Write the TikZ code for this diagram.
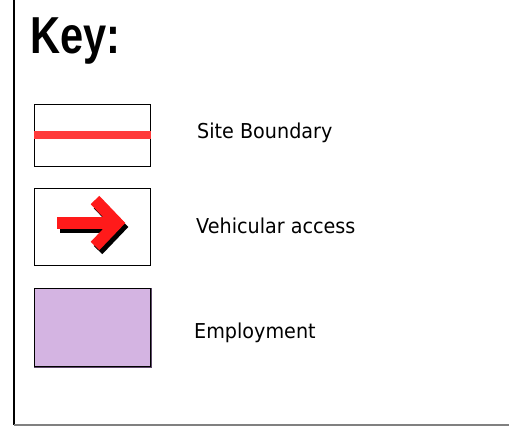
\documentclass[tikz,border=0pt]{standalone}
\usepackage{graphicx}
\usepackage{fontspec}
\setmainfont{DejaVu Sans}
\newfontfamily\keyfont{Liberation Sans}
\definecolor{sitered}{HTML}{FF3B3B}
\definecolor{arrred}{HTML}{FF1A1A}
\definecolor{emplfill}{HTML}{D4B4E2}
\definecolor{emplborder}{HTML}{5E4A6A}
\definecolor{framegray}{HTML}{808080}
\newcommand{\lbltext}[1]{\scalebox{0.935}[1]{\fontsize{20.5}{24}\selectfont #1}}
\begin{document}
\begin{tikzpicture}[x=1pt,y=-1pt,
  keybox/.style={draw=black,line width=1.2pt,minimum width=116pt,minimum height=62pt,inner sep=0pt,anchor=north west},
  label/.style={anchor=base west,inner sep=0pt},
  arrowline/.style={line width=12pt,miter limit=10}]
\useasboundingbox (0,0) rectangle (509,428);
\fill[white] (0,0) rectangle (509,428);
% frame
\coordinate (ftop) at (14,0);
\coordinate (fcorner) at (14,425);
\coordinate (fright) at (509,425);
\draw[black,line width=1.5pt] (ftop) -- (fcorner);
\draw[framegray,line width=2pt] (fcorner) -- (fright);
% title
\node[anchor=base west,inner sep=0pt] (title) at (30,54)
  {\scalebox{0.8}[1]{\keyfont\bfseries\fontsize{52}{60}\selectfont Key:}};
% site boundary
\node[keybox] (site) at (34,104) {};
\fill[sitered] (site.west |- 0,131) rectangle (site.east |- 0,139);
\node[label] (sitelbl) at (197,138) {\lbltext{Site Boundary}};
% vehicular access
\node[keybox,minimum height=77pt] (veh) at (34,188) {};
\begin{scope}[shift={(3,4)}]
  \draw[black,arrowline] (95,200) -- (117,223) -- (95,246);
  \draw[black,arrowline] (57,222.5) -- (116,222.5);
\end{scope}
\draw[arrred,arrowline] (95,200) -- (117,223) -- (95,246);
\draw[arrred,arrowline] (57,222.5) -- (116,222.5);
\node[label] (vehlbl) at (196,233) {\lbltext{Vehicular access}};
% employment
\node[keybox,minimum height=78pt,fill=emplfill] (empl) at (34,288) {};
\draw[emplborder,line width=1.2pt] (empl.north east) -- (empl.south east) -- (empl.south west);
\node[label] (empllbl) at (194,338) {\lbltext{Employment}};
\end{tikzpicture}
\end{document}
